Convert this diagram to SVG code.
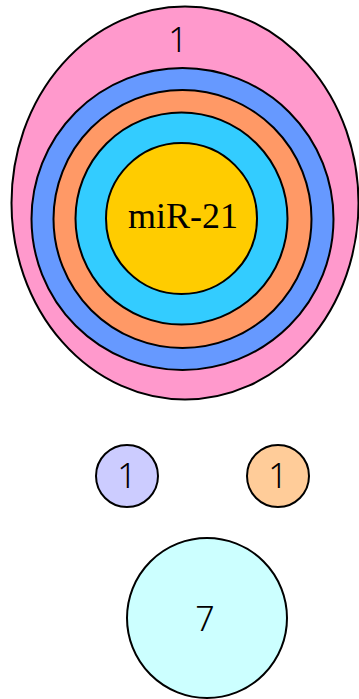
<svg xmlns="http://www.w3.org/2000/svg" width="359" height="699" viewBox="0 0 359 699">
<style>
.s{stroke:#000;stroke-width:2}
.n{font-family:"Noto Sans","Open Sans",sans-serif;font-size:34px;font-weight:300;text-anchor:middle;fill:#000}
.m{font-family:"Liberation Serif",serif;font-size:36px;text-anchor:middle;fill:#000}
</style>
<rect width="359" height="699" fill="#fff"/>
<g id="set-outer">
<ellipse class="s" cx="185" cy="203" rx="173.5" ry="196.5" fill="#FF99CC"/>
<text class="n" x="178" y="52">1</text>
</g>
<g id="set-blue"><circle class="s" cx="182.5" cy="219" r="151" fill="#6699FF"/></g>
<g id="set-orange"><circle class="s" cx="182.5" cy="219" r="129" fill="#FF9966"/></g>
<g id="set-cyan"><circle class="s" cx="181.5" cy="218.5" r="106" fill="#33CCFF"/></g>
<g id="set-core">
<circle class="s" cx="181.5" cy="218.5" r="75.5" fill="#FFCC00"/>
<text class="m" x="183" y="228">miR-21</text>
</g>
<g id="set-lavender">
<circle class="s" cx="127" cy="476" r="31" fill="#CCCCFF"/>
<text class="n" x="127" y="488">1</text>
</g>
<g id="set-peach">
<circle class="s" cx="278" cy="476" r="31" fill="#FFCC99"/>
<text class="n" x="278" y="488">1</text>
</g>
<g id="set-lightcyan">
<circle class="s" cx="207" cy="618" r="80" fill="#CCFFFF"/>
<text class="n" x="205" y="631">7</text>
</g>
<g id="connectors"></g>
</svg>
